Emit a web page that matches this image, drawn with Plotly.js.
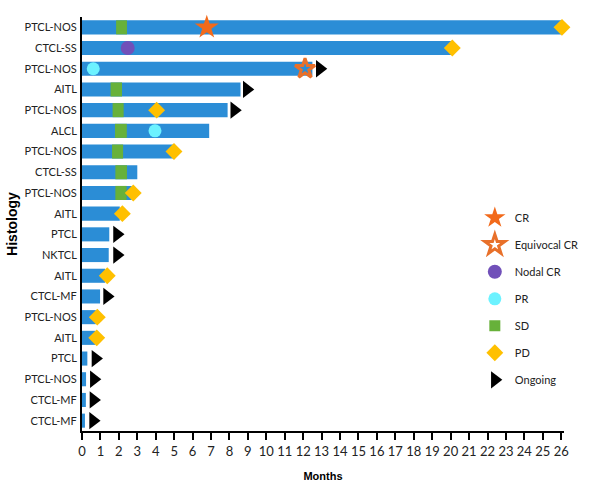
<!DOCTYPE html>
<html><head><meta charset="utf-8">
<script src="https://cdn.plot.ly/plotly-3.0.1.min.js"></script>
<style>body{margin:0;background:#fff}#c{width:605px;height:494px}</style>
</head><body><div id="c"></div>
<script>
// Histology per patient (top to bottom)
const histology = ["PTCL-NOS","CTCL-SS","PTCL-NOS","AITL","PTCL-NOS","ALCL","PTCL-NOS","CTCL-SS","PTCL-NOS","AITL",
  "PTCL","NKTCL","AITL","CTCL-MF","PTCL-NOS","AITL","PTCL","PTCL-NOS","CTCL-MF","CTCL-MF"];
// Duration on treatment (months)
const duration = [26.0,20.1,12.5,8.6,7.9,6.9,4.95,3.0,2.7,2.05,1.48,1.45,1.25,0.98,0.75,0.72,0.29,0.22,0.21,0.16];
// Stable disease segments (row number, start, end)
const sdRow = [1,4,5,6,7,8,9];
const sdStart = [1.85,1.55,1.66,1.79,1.63,1.81,1.81];
const sdEnd = [2.44,2.17,2.26,2.43,2.23,2.44,2.42];
// Response events (row number, month)
const crRow = [1], crX = [6.77];
const eqcrRow = [3], eqcrX = [12.1];
const nodalRow = [2], nodalX = [2.48];
const prRow = [3,6], prX = [0.61,3.96];
const pdRow = [1,2,5,7,9,10,13,15,16], pdX = [26.04,20.09,4.05,4.99,2.78,2.19,1.37,0.83,0.8];
const ongoingRow = [3,4,5,11,12,14,17,18,19,20], ongoingX = [12.9,8.94,8.26,1.9,1.9,1.36,0.73,0.64,0.62,0.6];

const rows = histology.map((_, i) => i + 1);
const blue = "#2B8DD6";
const traces = [
  {type:"bar", orientation:"h", y:rows, x:duration, base:0, width:0.68,
   marker:{color:blue}, showlegend:false, hoverinfo:"skip"},
  {type:"bar", orientation:"h", y:sdRow, x:sdEnd.map((e,i)=>e-sdStart[i]), base:sdStart, width:0.68,
   marker:{color:"#67B13A"}, showlegend:false, hoverinfo:"skip"},
  {type:"scatter", mode:"markers", name:"CR", y:crRow, x:crX, legendgroup:"a", cliponaxis:false,
   marker:{symbol:"star", size:18, color:"#F26A1B"}},
  {type:"scatter", mode:"markers", name:"Equivocal CR", y:eqcrRow, x:eqcrX, legendgroup:"b", cliponaxis:false,
   marker:{symbol:"star-open", size:15, color:"#E8702A", line:{width:3, color:"#E8702A"}}},
  {type:"scatter", mode:"markers", name:"Nodal CR", y:nodalRow, x:nodalX, legendgroup:"c", cliponaxis:false,
   marker:{symbol:"circle", size:14, color:"#7150B9"}},
  {type:"scatter", mode:"markers", name:"PR", y:prRow, x:prX, legendgroup:"d", cliponaxis:false,
   marker:{symbol:"circle", size:13, color:"#6CF2FF"}},
  {type:"scatter", mode:"markers", name:"SD", y:[null], x:[null], legendgroup:"e",
   marker:{symbol:"square", size:11, color:"#67B13A"}},
  {type:"scatter", mode:"markers", name:"PD", y:pdRow, x:pdX, legendgroup:"f", cliponaxis:false,
   marker:{symbol:"diamond", size:13, color:"#FFC000"}},
  {type:"scatter", mode:"markers", name:"Ongoing", y:ongoingRow, x:ongoingX, legendgroup:"g", cliponaxis:false,
   marker:{symbol:"triangle-right", size:15, color:"#000000"}}
];
const xt = []; for (let i = 0; i <= 26; i++) xt.push(i);
const layout = {
  width:605, height:494, margin:{l:82, r:41, t:17, b:63},
  paper_bgcolor:"#fff", plot_bgcolor:"#fff",
  barmode:"overlay", showlegend:true,
  font:{family:"Lato, sans-serif", size:11, color:"#222"},
  xaxis:{range:[0,26.15], tickvals:xt, ticktext:xt.map(String), ticks:"outside", ticklen:7, tickwidth:2,
    tickcolor:"#000", showline:true, linecolor:"#000", linewidth:2, showgrid:false, zeroline:false,
    tickfont:{size:13, family:"Lato, sans-serif", color:"#222"},
    title:{text:"<b>Months</b>", font:{size:11, family:"Liberation Sans, Arial, sans-serif", color:"#000"}, standoff:15}},
  yaxis:{range:[20.5,0.5], tickvals:rows, ticktext:histology, ticks:"", showline:true, linecolor:"#000",
    linewidth:2, showgrid:false, zeroline:false, ticklabelstandoff:1,
    tickfont:{size:11, family:"Lato, sans-serif", color:"#222"},
    title:{text:"<b>Histology</b>", font:{size:14, family:"Liberation Sans, Arial, sans-serif", color:"#000"}, standoff:4}},
  legend:{x:0.815, y:0.55, xanchor:"left", yanchor:"top", traceorder:"grouped", tracegroupgap:8,
    font:{size:11, family:"Lato, sans-serif", color:"#222"}, bgcolor:"rgba(0,0,0,0)", itemwidth:30}
};
Plotly.newPlot("c", traces, layout, {displayModeBar:false});
</script></body></html>
